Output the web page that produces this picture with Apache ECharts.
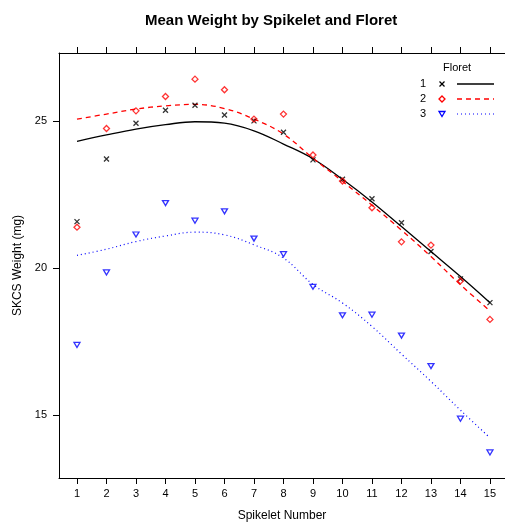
<!DOCTYPE html>
<html>
<head>
<meta charset="utf-8">
<script src="https://cdn.jsdelivr.net/npm/echarts@6/dist/echarts.min.js"></script>
<style>
  html, body { margin: 0; padding: 0; background: #fff; }
  #chart-container { width: 505px; height: 527px; }
</style>
</head>
<body>
<div id="chart-container"></div>
<script>
var dom = document.getElementById('chart-container');
var myChart = echarts.init(dom, null, { renderer: 'canvas' });

// spikelet number (x)
const spikelet = [1, 2, 3, 4, 5, 6, 7, 8, 9, 10, 11, 12, 13, 14, 15];
// mean weight per floret (points)
const floret1 = [21.58, 23.71, 24.93, 25.37, 25.54, 25.21, 25.01, 24.62, 23.68, 23.02, 22.36, 21.54, 20.56, 19.63, 18.82];
const floret2 = [21.39, 24.75, 25.35, 25.84, 26.43, 26.07, 25.07, 25.24, 23.85, 22.96, 22.05, 20.89, 20.78, 19.56, 18.25];
const floret3 = [17.38, 19.85, 21.14, 22.21, 21.61, 21.93, 21.00, 20.47, 19.36, 18.39, 18.41, 17.70, 16.66, 14.87, 13.72];
// smoothed curves
const smooth1 = [24.31, 24.53, 24.73, 24.88, 24.98, 24.93, 24.67, 24.22, 23.72, 23.02, 22.25, 21.41, 20.56, 19.71, 18.82];
const smooth2 = [25.07, 25.24, 25.41, 25.52, 25.57, 25.43, 25.07, 24.56, 23.74, 22.95, 22.14, 21.29, 20.39, 19.43, 18.54];
const smooth3 = [20.43, 20.64, 20.90, 21.09, 21.22, 21.13, 20.79, 20.34, 19.44, 18.81, 18.01, 17.07, 16.14, 15.16, 14.22];
// tick labels
const xTicks = spikelet;
const yTicks = [15, 20, 25];
const floretNames = ['1', '2', '3'];

const FONT = 'Liberation Sans, Arial, Helvetica, sans-serif';
const CROSS = 'path://M0,0L10,10M10,0L0,10';

function pairs(ys) {
  return ys.map((y, i) => [spikelet[i], y]);
}

const pointStyles = [
  { symbol: CROSS, size: 5, rotate: 0, color: '#000000', data: floret1 },
  { symbol: 'diamond', size: [6, 6], rotate: 0, color: '#ff0000', data: floret2 },
  { symbol: 'triangle', size: [6, 5], rotate: 180, color: '#0000ff', data: floret3 }
];
const lineStyles = [
  { color: '#000000', type: 'solid', width: 1.3, data: smooth1 },
  { color: '#ff0000', type: [5, 4], width: 1.3, data: smooth2 },
  { color: '#0000ff', type: [1, 3], width: 1.2, data: smooth3 }
];

const series = [];
lineStyles.forEach((s, i) => {
  series.push({
    name: 'loess ' + floretNames[i],
    type: 'line',
    smooth: 0.4,
    showSymbol: false,
    data: pairs(s.data),
    lineStyle: { color: s.color, type: s.type, width: s.width },
    silent: true,
    z: 2
  });
});
pointStyles.forEach((s, i) => {
  series.push({
    name: floretNames[i],
    type: 'scatter',
    symbol: s.symbol,
    symbolSize: s.size,
    symbolRotate: s.rotate,
    data: pairs(s.data),
    itemStyle: { color: 'rgba(0,0,0,0)', borderColor: s.color, borderWidth: 1.3 },
    z: 3
  });
});

// legend drawn by hand (label, symbol, line columns)
const legendX = 423, legendY = [84, 99, 114];
const legendGraphics = [{
  type: 'text', left: 443, top: 62,
  style: { text: 'Floret', font: '11px ' + FONT, fill: '#000' }
}];
legendY.forEach((y, i) => {
  legendGraphics.push({
    type: 'text', x: legendX, y: y,
    style: { text: floretNames[i], font: '11px ' + FONT, fill: '#000', align: 'center', verticalAlign: 'middle' }
  });
  const sx = 442;
  let mark;
  if (i === 0) {
    mark = { type: 'polyline', shape: { points: [[sx - 2.5, y - 2.5], [sx + 2.5, y + 2.5]] }, style: { stroke: '#000', lineWidth: 1.2 } };
    legendGraphics.push({ type: 'polyline', shape: { points: [[sx + 2.5, y - 2.5], [sx - 2.5, y + 2.5]] }, style: { stroke: '#000', lineWidth: 1.2 } });
  } else if (i === 1) {
    mark = { type: 'polygon', shape: { points: [[sx, y - 3], [sx + 3, y], [sx, y + 3], [sx - 3, y]] }, style: { fill: 'none', stroke: '#ff0000', lineWidth: 1.3 } };
  } else {
    mark = { type: 'polygon', shape: { points: [[sx - 3, y - 2.5], [sx + 3, y - 2.5], [sx, y + 2.5]] }, style: { fill: 'none', stroke: '#0000ff', lineWidth: 1.3 } };
  }
  legendGraphics.push(mark);
  legendGraphics.push({
    type: 'line', shape: { x1: 457, y1: y, x2: 494, y2: y },
    style: { stroke: lineStyles[i].color, lineWidth: lineStyles[i].width, lineDash: lineStyles[i].type === 'solid' ? null : lineStyles[i].type }
  });
});

var option = {
  animation: false,
  backgroundColor: '#ffffff',
  title: {
    text: 'Mean Weight by Spikelet and Floret',
    left: 140,
    top: 8,
    textStyle: { fontFamily: FONT, fontSize: 15, fontWeight: 'bold', color: '#000' }
  },
  grid: { left: 59, top: 53, right: 0, bottom: 45 },
  xAxis: [{
    type: 'value',
    position: 'bottom',
    min: 0.39,
    max: 15.51,
    name: 'Spikelet Number',
    nameLocation: 'middle',
    nameGap: 32,
    nameTextStyle: { fontFamily: FONT, fontSize: 12, color: '#000' },
    splitLine: { show: false },
    axisLine: { show: true, onZero: false, lineStyle: { color: '#000', width: 1 } },
    axisTick: { show: true, length: 6, inside: false, customValues: xTicks, lineStyle: { color: '#000' } },
    axisLabel: { margin: 10, customValues: xTicks, fontFamily: FONT, fontSize: 11, color: '#000' }
  }, {
    type: 'value',
    position: 'top',
    min: 0.39,
    max: 15.51,
    splitLine: { show: false },
    axisLine: { show: true, onZero: false, lineStyle: { color: '#000', width: 1 } },
    axisTick: { show: true, length: 6, inside: false, customValues: xTicks, lineStyle: { color: '#000' } },
    axisLabel: { show: false }
  }],
  yAxis: {
    type: 'value',
    min: 12.85,
    max: 27.32,
    name: 'SKCS Weight (mg)',
    nameLocation: 'middle',
    nameGap: 32,
    nameTextStyle: { fontFamily: FONT, fontSize: 12, color: '#000' },
    splitLine: { show: false },
    axisLine: { show: true, onZero: false, lineStyle: { color: '#000', width: 1 } },
    axisTick: { show: true, length: 6, inside: false, customValues: yTicks, lineStyle: { color: '#000' } },
    axisLabel: { margin: 12, customValues: yTicks, fontFamily: FONT, fontSize: 11, color: '#000' }
  },
  graphic: legendGraphics,
  series: series
};

myChart.setOption(option);
window.addEventListener('resize', myChart.resize);
</script>
</body>
</html>
